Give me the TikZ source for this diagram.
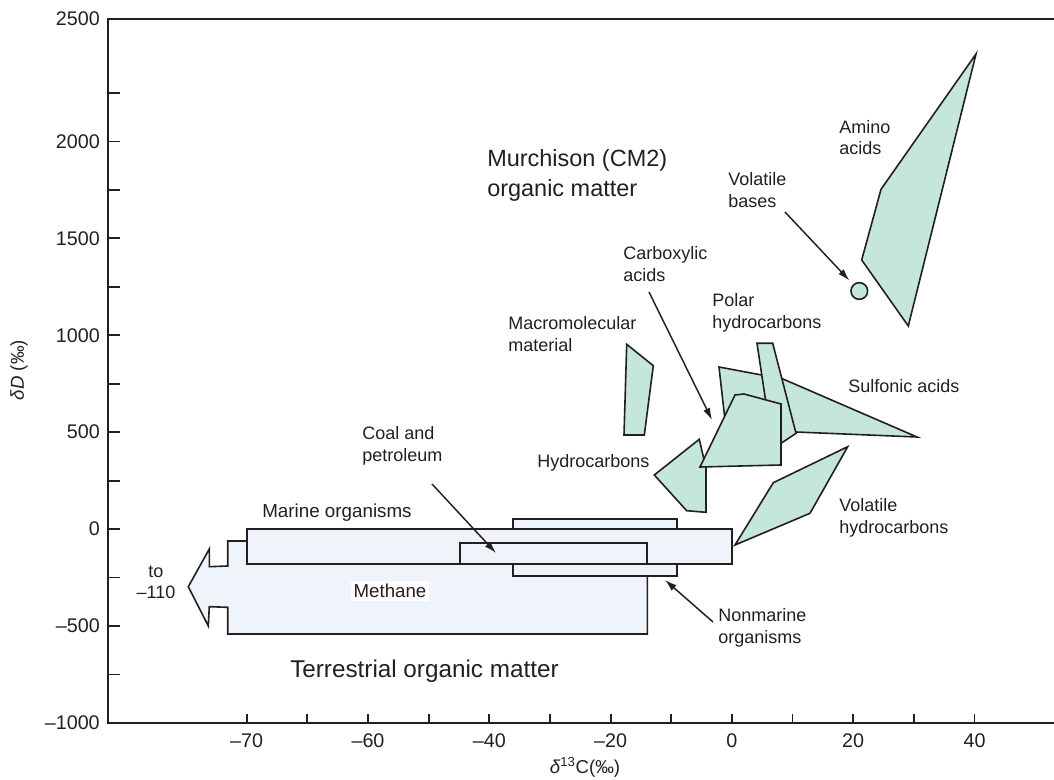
\documentclass[tikz,border=0pt]{standalone}
\usepackage{fontspec}
\setmainfont{Liberation Sans}
\usetikzlibrary{positioning,arrows.meta}

\definecolor{organicgreen}{RGB}{197,231,218}
\definecolor{boxblue}{RGB}{238,244,250}
\definecolor{inkgray}{RGB}{35,31,32}

\begin{document}
\begin{tikzpicture}[x=0.75pt,y=-0.75pt,>={Latex[length=9pt,width=5.5pt]},
  organic/.style={draw=inkgray,fill=organicgreen,line width=1.2pt},
  terrestrial/.style={draw=inkgray,fill=boxblue,line width=1.2pt},
  frame line/.style={draw=inkgray,line width=1.4pt},
  annot/.style={font=\fontsize{13.5}{16}\selectfont,text=inkgray,align=left,inner sep=0pt,anchor=west},
  big annot/.style={font=\fontsize{17.6}{22.5}\selectfont,text=inkgray,align=left,inner sep=0pt,anchor=west},
  tick label/.style={font=\fontsize{14.8}{17}\selectfont,text=inkgray,inner sep=0pt},
  pointer/.style={->,draw=inkgray,line width=1.1pt}]

  \useasboundingbox (0,0) rectangle (1054,780);

  % frame and ticks
  \draw[frame line] (1054,19) -- (108,19) -- (108,723) -- (1054,723);
  \foreach \j in {-1,...,11}
    \draw[frame line] (108,{141.5+48.45*\j}) -- ++(12,0);
  \foreach \k in {0,...,12}
    \draw[frame line] ({246.7+60.65*\k},723) -- ++(0,-9);

  \foreach \v/\y [count=\i] in {2500/19,2000/141.5,1500/238.4,1000/335.3,500/432.2,0/529.1,–500/626,–1000/723}
    \node[tick label,anchor=east] (ytick\i) at (100,\y) {\v};
  \foreach \v [count=\i from 0] in {–70,–60,–40,–20,0,20,40}
    \node[tick label] (xtick\i) at ({246.7+121.3*\i},741) {\v};

  \node[tick label,font=\fontsize{14}{17}\selectfont,rotate=90] (ytitle) at (19,370) {\textit{δD} (‰)};
  \node[tick label,font=\fontsize{14}{17}\selectfont] (xtitle) at (585,767) {\textit{δ}\textsuperscript{13}C(‰)};

  % terrestrial organic matter
  \filldraw[terrestrial] (647.3,541) -- (227.7,541) -- (227.7,566) -- (209.3,566.7) -- (209.3,549)
    -- (188.3,586.7) -- (208.3,626) -- (209.3,606.7) -- (227.7,607.3) -- (227.7,634) -- (647.3,634) -- cycle;
  \filldraw[terrestrial] (513,519) rectangle (677,576);
  \filldraw[terrestrial] (247,529) rectangle (732,564);
  \filldraw[terrestrial] (460,543) rectangle (647,564);

  % meteoritic organic matter
  \filldraw[organic] (976,54) -- (881,189.3) -- (861.7,260) -- (908.3,326) -- cycle;
  \node[organic,circle,minimum size=12.5pt,inner sep=0pt] (basesdot) at (859.3,291) {};
  \filldraw[organic] (626.7,344.3) -- (653.3,365.7) -- (644.3,435) -- (624,435) -- cycle;
  \filldraw[organic] (719,367) -- (783,379) -- (917,437) -- (796,432) -- (780,440) -- (725,420) -- cycle;
  \filldraw[organic] (757,343.3) -- (772.7,343.3) -- (796,433.3) -- (781,443.3) -- (772,443) -- cycle;
  \filldraw[organic] (654.3,475) -- (699.3,439.3) -- (706,468.3) -- (706,512.3) -- (686.7,510.7) -- cycle;
  \filldraw[organic] (735,395) -- (744,394) -- (781,404) -- (781,465) -- (700,467) -- cycle;
  \filldraw[organic] (735,545) -- (773.3,482.7) -- (847.7,446.7) -- (810,513.3) -- cycle;

  % labels
  \node[big annot] (murchison) at (487,175) {Murchison (CM2)\\organic matter};
  \node[big annot,font=\fontsize{18.2}{22.5}\selectfont] (terrestrial) at (290,671) {Terrestrial organic matter};
  \node[annot] (amino) at (839,137.5) {Amino\\acids};
  \node[annot] (bases) at (728,190) {Volatile\\bases};
  \node[annot] (carboxylic) at (623,264) {Carboxylic\\acids};
  \node[annot] (polar) at (712,313) {Polar\\hydrocarbons};
  \node[annot] (macro) at (508,334) {Macromolecular\\material};
  \node[annot] (sulfonic) at (848,386) {Sulfonic acids};
  \node[annot] (hydro) at (537,463) {Hydrocarbons};
  \node[annot] (volhydro) at (839,518) {Volatile\\hydrocarbons};
  \node[annot] (coal) at (362,446) {Coal and\\petroleum};
  \node[annot,font=\fontsize{14.1}{16}\selectfont] (marine) at (262,513) {Marine organisms};
  \node[annot] (nonmarine) at (718,628) {Nonmarine\\organisms};
  \node[annot,font=\fontsize{14}{16}\selectfont,fill=white,inner sep=2pt,anchor=center] (methane) at (390,591) {Methane};
  \node[annot,align=center,anchor=center] (toend) at (156,582) {to\\–110};

  % pointers
  \coordinate (basesfrom) at (785,212);
  \coordinate (carbfrom) at (649,292);
  \coordinate (carbto) at (712,420);
  \coordinate (coalfrom) at (432,484);
  \coordinate (coalto) at (496,553);
  \coordinate (nonmarfrom) at (713,622);
  \coordinate (nonmarto) at (665,580);
  \draw[pointer,shorten >=4pt] (basesfrom) -- (basesdot);
  \draw[pointer] (carbfrom) -- (carbto);
  \draw[pointer] (coalfrom) -- (coalto);
  \draw[pointer] (nonmarfrom) -- (nonmarto);
\end{tikzpicture}
\end{document}
